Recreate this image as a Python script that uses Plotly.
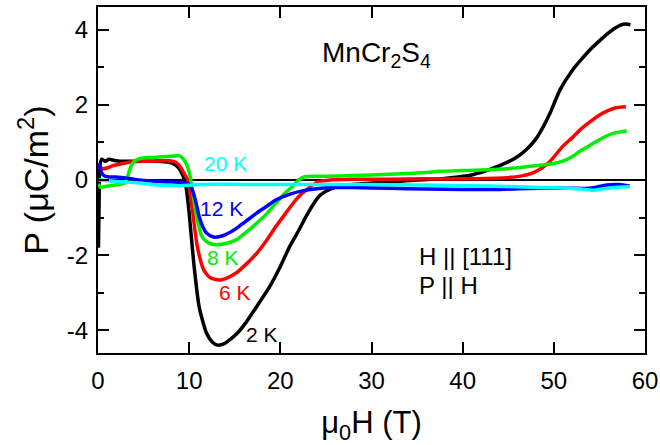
import plotly.graph_objects as go

# ---- data ----
x_2K = [0.05, 0.12, 0.2, 0.4, 0.8, 1.2, 1.8, 2.5, 3.5, 5.0, 6.5, 7.8, 8.5, 8.9, 9.2, 9.45, 9.7, 10.0, 10.5, 11.1,
        11.9, 12.5, 13.1, 13.8, 14.4, 15.3, 16.2, 17.5, 18.8, 20.0, 21.0, 22.0, 22.8, 23.6, 24.3, 25.0, 25.7, 27,
        29, 32, 35, 37.5, 39.5, 41.1, 43, 44.8, 46, 47.0, 48.0, 48.8, 49.6, 50.7, 52.1, 53.0, 54.0, 55.0, 55.8,
        56.6, 57.3, 57.9, 58.4]
y_2K = [-1.8, -0.6, 0.35, 0.55, 0.5, 0.55, 0.52, 0.5, 0.5, 0.5, 0.5, 0.47, 0.4, 0.3, 0.18, 0.02, -0.25, -0.88,
        -2.2, -3.38, -4.07, -4.3, -4.39, -4.36, -4.26, -4.07, -3.8, -3.33, -2.85, -2.3, -1.78, -1.35, -0.98, -0.65,
        -0.42, -0.3, -0.22, -0.15, -0.1, -0.05, 0.0, 0.03, 0.08, 0.14, 0.28, 0.46, 0.62, 0.81, 1.08, 1.4, 1.79,
        2.41, 2.94, 3.2, 3.47, 3.7, 3.87, 4.02, 4.12, 4.15, 4.13]

x_6K = [0.05, 0.2, 0.5, 1.0, 1.6, 2.4, 3.4, 4.5, 5.9, 7.0, 8.2, 8.8, 9.2, 9.5, 9.8, 10.05, 10.4, 10.9, 11.6, 12.3,
        13.3, 14.2, 15.1, 16.2, 17.4, 18.5, 19.5, 20.6, 21.7, 22.5, 23.2, 24.0, 25.5, 28, 32, 36, 40, 44.8, 46.5,
        47.7, 48.7, 49.6, 51.0, 52.0, 52.9, 54.0, 55.1, 56.0, 56.8, 57.9]
y_6K = [0.3, 0.35, 0.3, 0.32, 0.38, 0.42, 0.47, 0.5, 0.5, 0.52, 0.5, 0.42, 0.28, 0.15, 0.03, -0.27, -0.88, -1.78,
        -2.39, -2.6, -2.66, -2.6, -2.48, -2.25, -1.95, -1.6, -1.24, -0.88, -0.53, -0.33, -0.2, -0.06, 0.0, 0.02,
        0.02, 0.03, 0.03, 0.06, 0.11, 0.19, 0.32, 0.5, 0.9, 1.12, 1.34, 1.55, 1.74, 1.85, 1.92, 1.95]

x_8K = [0.05, 0.3, 0.8, 1.5, 2.2, 2.9, 3.2, 3.45, 3.7, 4.0, 4.3, 4.8, 5.4, 6.2, 7.0, 8.0, 8.9, 9.4, 9.8, 10.1,
        10.4, 10.75, 11.4, 12.1, 12.9, 14.0, 15.1, 16.2, 17.4, 18.5, 19.5, 20.5, 21.3, 21.9, 22.6, 23.5, 25, 28,
        32, 36, 37.5, 40, 44.8, 48.5, 50.0, 51.0, 52.0, 52.9, 53.8, 54.7, 55.6, 56.5, 57.3, 58.0]
y_8K = [-0.1, -0.2, -0.17, -0.15, -0.12, -0.08, 0.05, 0.25, 0.41, 0.5, 0.55, 0.58, 0.6, 0.6, 0.62, 0.63, 0.65,
        0.55, 0.37, 0.1, -0.35, -0.88, -1.5, -1.67, -1.72, -1.69, -1.6, -1.4, -1.15, -0.9, -0.62, -0.35, -0.18,
        -0.02, 0.08, 0.1, 0.1, 0.12, 0.15, 0.2, 0.23, 0.25, 0.3, 0.39, 0.44, 0.5, 0.62, 0.77, 0.9, 1.03, 1.15,
        1.24, 1.28, 1.3]

x_12K = [0.05, 0.15, 0.3, 0.5, 0.8, 1.2, 2.0, 3.2, 4.5, 6, 7.5, 9.0, 9.8, 10.1, 10.4, 10.75, 11.1, 11.5, 11.9,
         12.4, 12.9, 14.0, 15.1, 16.2, 17.4, 18.5, 19.5, 21.0, 22.4, 24, 25.4, 28, 32, 36, 40, 44, 48.5, 52, 54,
         55.8, 57.2, 58.3]
y_12K = [0.45, 0.41, 0.25, 0.15, 0.1, 0.08, 0.08, 0.05, 0.0, -0.03, -0.05, -0.06, -0.08, -0.15, -0.3, -0.6, -0.98,
         -1.25, -1.41, -1.49, -1.52, -1.45, -1.3, -1.1, -0.88, -0.7, -0.53, -0.38, -0.29, -0.23, -0.2, -0.2, -0.22,
         -0.24, -0.25, -0.25, -0.22, -0.22, -0.22, -0.13, -0.12, -0.16]

x_20K = [0.05, 0.5, 1.0, 2.0, 3.0, 4.0, 5.0, 6.0, 7.0, 8.0, 9.0, 10.0, 11.0, 12.5, 14, 16, 20, 25, 30, 35, 40, 45,
         48.5, 51, 53, 54.3, 55.5, 57, 58.3]
y_20K = [0.0, 0.0, -0.02, -0.04, -0.05, -0.07, -0.09, -0.12, -0.14, -0.14, -0.15, -0.14, -0.12, -0.11, -0.11,
         -0.12, -0.12, -0.12, -0.12, -0.13, -0.15, -0.17, -0.2, -0.21, -0.24, -0.27, -0.23, -0.19, -0.18]

x_tickvals = [0, 10, 20, 30, 40, 50, 60]
y_tickvals = [-4, -2, 0, 2, 4]
y_ticktext = ["-4", "-2", "0", "2", "4"]

series = [
    ("2 K", x_2K, y_2K, "#000000"),
    ("6 K", x_6K, y_6K, "#ff0000"),
    ("8 K", x_8K, y_8K, "#00ee00"),
    ("12 K", x_12K, y_12K, "#0000ff"),
    ("20 K", x_20K, y_20K, "#00ffff"),
]

FONT = "Liberation Sans, Arial, sans-serif"

fig = go.Figure()
for name, xs, ys, col in series:
    fig.add_trace(go.Scatter(x=xs, y=ys, mode="lines", name=name,
                             line=dict(color=col, width=3.5, shape="spline", smoothing=0.6)))

# curve labels
labels = [
    ("20 K", 14.0, 0.44, "#00ffff"),
    ("12 K", 13.6, -0.77, "#0000ff"),
    ("8 K", 13.7, -2.05, "#00ee00"),
    ("6 K", 15.0, -3.0, "#ff0000"),
    ("2 K", 18.0, -4.1, "#000000"),
]
for txt, lx, ly, col in labels:
    fig.add_annotation(x=lx, y=ly, text=txt, showarrow=False, xanchor="center", yanchor="middle",
                       font=dict(family=FONT, size=21, color=col))

fig.add_annotation(x=30.6, y=3.34, text="MnCr<sub>2</sub>S<sub>4</sub>", showarrow=False,
                   xanchor="center", yanchor="middle", font=dict(family=FONT, size=28, color="black"))
fig.add_annotation(x=35.0, y=-2.03, text="H || [111]", showarrow=False, xanchor="left", yanchor="middle",
                   font=dict(family=FONT, size=24, color="black"))
fig.add_annotation(x=35.0, y=-2.81, text="P || H", showarrow=False, xanchor="left", yanchor="middle",
                   font=dict(family=FONT, size=24, color="black"))

fig.update_layout(
    width=660, height=445,
    margin=dict(l=98, r=15, t=7, b=92),
    paper_bgcolor="white", plot_bgcolor="white",
    showlegend=False,
    font=dict(family=FONT, size=24, color="black"),
)
fig.update_xaxes(
    range=[0, 60], tickvals=x_tickvals,
    ticks="inside", ticklen=11, tickwidth=2, tickcolor="black",
    showline=True, linewidth=2, linecolor="black", mirror="ticks",
    showgrid=False, zeroline=False,
    tickfont=dict(family=FONT, size=24), ticklabelstandoff=5,
    title=dict(text="\u03bc<sub>0</sub>H (T)", font=dict(family=FONT, size=31), standoff=20),
    automargin=False,
)
fig.update_yaxes(
    range=[-4.6, 4.6], tickvals=y_tickvals, ticktext=y_ticktext,
    ticks="inside", ticklen=11, tickwidth=2, tickcolor="black",
    minor=dict(dtick=1, ticks="inside", ticklen=6, tickwidth=2, tickcolor="black", showgrid=False),
    showline=True, linewidth=2, linecolor="black", mirror="ticks",
    showgrid=False, zeroline=True, zerolinecolor="black", zerolinewidth=2,
    tickfont=dict(family=FONT, size=24), ticklabelstandoff=3,
    title=dict(text="P (\u03bcC/m<sup>2</sup>)", font=dict(family=FONT, size=34), standoff=8),
    automargin=False,
)

fig.write_html("out.html", config={"displayModeBar": False},
               post_script="document.body.style.margin='0';document.body.style.padding='0';")
